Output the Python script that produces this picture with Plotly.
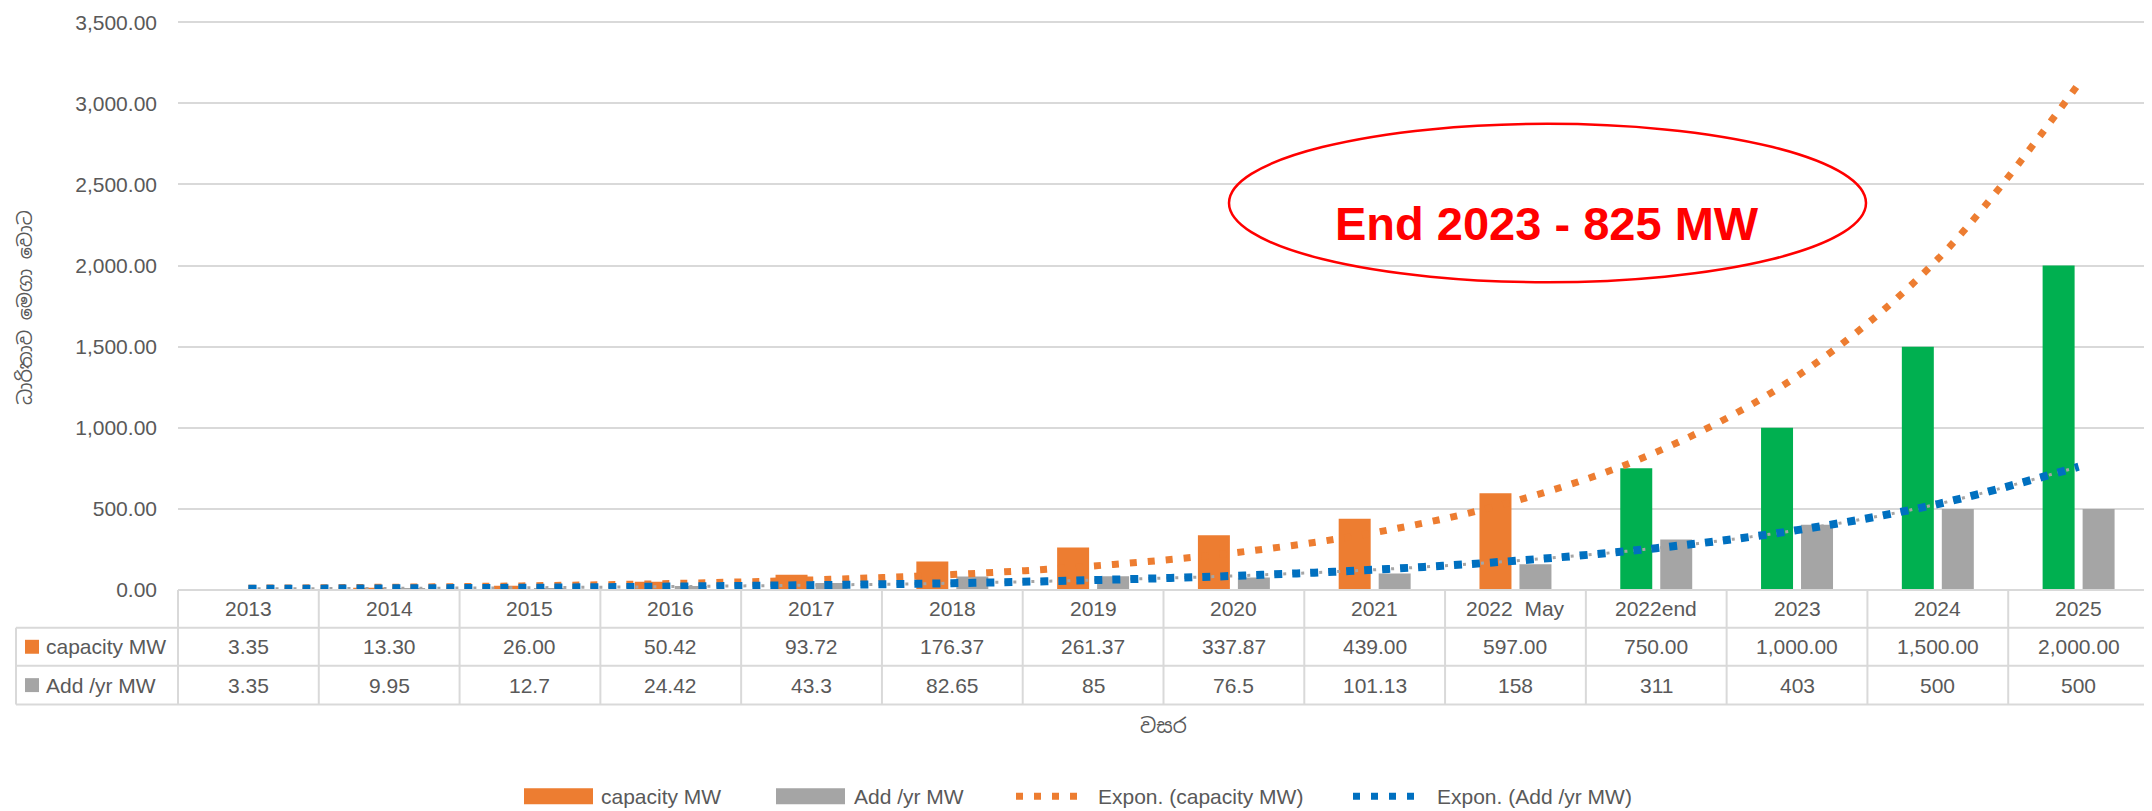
import plotly.graph_objects as go

# ---------------- data ----------------
categories = ["2013", "2014", "2015", "2016", "2017", "2018", "2019", "2020",
              "2021", "2022  May", "2022end", "2023", "2024", "2025"]
capacity_mw = [3.35, 13.30, 26.00, 50.42, 93.72, 176.37, 261.37, 337.87,
               439.00, 597.00, 750.00, 1000.00, 1500.00, 2000.00]
add_yr_mw = [3.35, 9.95, 12.7, 24.42, 43.3, 82.65, 85, 76.5,
             101.13, 158, 311, 403, 500, 500]
# exponential trend lines
capacity_trend = [11, 17, 26, 40, 62, 95, 148, 229, 354, 549, 850, 1318, 2040, 3120]
add_trend = [7, 10, 14, 21, 30, 42, 61, 87, 125, 180, 258, 369, 530, 760]
projected_from = "2022end"
y_ticks = [0, 500, 1000, 1500, 2000, 2500, 3000, 3500]
y_max = 3520

# ---------------- style ----------------
ORANGE = "#ED7D31"
GRAY = "#A5A5A5"
GREEN = "#00B050"
BLUE = "#0070C0"
TXT = "#595959"
GRID = "#D9D9D9"
FONT = "Liberation Sans, Arial, sans-serif"
SIN_FONT = "Noto Sans Sinhala, Iskoola Pota, Noto Sans, DejaVu Sans, sans-serif"
FS = 21

OFF = 8  # page body margin
W, H = 2152 - OFF, 811 - OFF
PLOT_L, PLOT_R, PLOT_B = 178 - OFF, 2149 - OFF, 590 - OFF
TOP_TICK_Y = 20 - OFF  # pixel of the 3500 gridline
PH = (PLOT_B - TOP_TICK_Y) * y_max / y_ticks[-1]
L, R, B = PLOT_L, W - PLOT_R, H - PLOT_B
T = PLOT_B - PH
PW = W - L - R


def px(xp):
    """reference pixel x -> paper"""
    return (xp - OFF - L) / PW


def py(yp):
    """reference pixel y -> paper"""
    return (PLOT_B - (yp - OFF)) / PH


proj_idx = categories.index(projected_from)
bar_colors = [GREEN if i >= proj_idx else ORANGE for i in range(len(categories))]

fig = go.Figure()
fig.add_trace(go.Bar(x=categories, y=capacity_mw, name="capacity MW",
                     marker=dict(color=bar_colors, line=dict(width=0))))
fig.add_trace(go.Bar(x=categories, y=add_yr_mw, name="Add /yr MW",
                     marker=dict(color=GRAY, line=dict(width=0))))
fig.add_trace(go.Scatter(x=categories, y=capacity_trend, mode="lines",
                         name="Expon. (capacity MW)",
                         line=dict(color=ORANGE, width=7, dash="7px,11px", shape="spline")))
fig.add_trace(go.Scatter(x=categories, y=add_trend, mode="lines", showlegend=False,
                         line=dict(color=GRAY, width=3, dash="3px,6px", shape="spline")))
fig.add_trace(go.Scatter(x=categories, y=add_trend, mode="lines",
                         name="Expon. (Add /yr MW)",
                         line=dict(color=BLUE, width=8, dash="8px,10px", shape="spline")))

shapes = []
annotations = []


def txt(x, y, text, xanchor="center", size=FS, family=FONT, color=TXT, **kw):
    annotations.append(dict(x=x, xref="paper", y=y, yref="paper", text=text,
                            xanchor=xanchor, yanchor="middle", showarrow=False,
                            font=dict(family=family, size=size, color=color), **kw))


n = len(categories)
# table geometry (reference pixels)
row_y = [590, 628, 666, 705]
left_x = 16
line = dict(color=GRID, width=2)
shapes.append(dict(type="line", xref="paper", yref="paper", x0=0, x1=1,
                   y0=py(row_y[0]), y1=py(row_y[0]), line=line))
for yy in row_y[1:]:
    shapes.append(dict(type="line", xref="paper", yref="paper", x0=px(left_x), x1=1,
                       y0=py(yy), y1=py(yy), line=line))
for k in range(n + 1):
    shapes.append(dict(type="line", xref="paper", yref="paper", x0=k / n, x1=k / n,
                       y0=py(row_y[0]), y1=py(row_y[3]), line=line))
shapes.append(dict(type="line", xref="paper", yref="paper", x0=px(left_x), x1=px(left_x),
                   y0=py(row_y[1]), y1=py(row_y[3]), line=line))


def mid(a, b):
    return py((a + b) / 2)


for i, c in enumerate(categories):
    cx = (i + 0.5) / n
    txt(cx, mid(row_y[0], row_y[1]), c.replace("  ", "\u00a0\u00a0"))
    txt(cx, mid(row_y[1], row_y[2]), f"{capacity_mw[i]:,.2f}")
    txt(cx, mid(row_y[2], row_y[3]), f"{add_yr_mw[i]:g}")

for (label, col, r0, r1) in [("capacity MW", ORANGE, row_y[1], row_y[2]),
                             ("Add /yr MW", GRAY, row_y[2], row_y[3])]:
    cy = (r0 + r1) / 2
    shapes.append(dict(type="rect", xref="paper", yref="paper", x0=px(25), x1=px(39),
                       y0=py(cy + 7), y1=py(cy - 7), fillcolor=col, line=dict(width=0)))
    txt(px(44), py(cy), label, xanchor="left")

# bottom legend (manual)
ly = 797
shapes.append(dict(type="rect", xref="paper", yref="paper", x0=px(524), x1=px(593),
                   y0=py(ly + 8), y1=py(ly - 8), fillcolor=ORANGE, line=dict(width=0)))
shapes.append(dict(type="rect", xref="paper", yref="paper", x0=px(776), x1=px(845),
                   y0=py(ly + 8), y1=py(ly - 8), fillcolor=GRAY, line=dict(width=0)))
shapes.append(dict(type="line", xref="paper", yref="paper", x0=px(1016), x1=px(1080),
                   y0=py(ly), y1=py(ly), line=dict(color=ORANGE, width=7, dash="7px,11px")))
shapes.append(dict(type="line", xref="paper", yref="paper", x0=px(1353), x1=px(1417),
                   y0=py(ly), y1=py(ly), line=dict(color=BLUE, width=7, dash="7px,11px")))
for xx, t in [(599, "capacity MW"), (852, "Add /yr MW"),
              (1096, "Expon. (capacity MW)"), (1435, "Expon. (Add /yr MW)")]:
    txt(px(xx), py(ly), t, xanchor="left")

# axis titles
txt(px(25), py(307), "ධාරිතාව මෙගා වොට", size=19, family=SIN_FONT, textangle=-90)
txt(px(1163), py(727), "වසර", size=20, family=SIN_FONT)

# callout ellipse and text
shapes.append(dict(type="circle", xref="paper", yref="paper",
                   x0=px(1229), x1=px(1866), y0=py(281), y1=py(122),
                   line=dict(color="#FF0000", width=2.5)))
txt(px(1547), py(222), "<b>End 2023 - 825 MW</b>", size=47, color="#FF0000")

fig.update_layout(
    width=W, height=H,
    margin=dict(l=L, r=R, t=T, b=B, pad=0),
    paper_bgcolor="white", plot_bgcolor="white",
    barmode="group", bargap=0.432, bargroupgap=0.2,
    showlegend=False,
    shapes=shapes, annotations=annotations,
    font=dict(family=FONT, size=FS, color=TXT),
)
fig.update_xaxes(type="category", range=[-0.5, n - 0.5], showticklabels=False,
                 showgrid=False, zeroline=False, showline=False, ticks="",
                 fixedrange=True)
fig.update_yaxes(range=[0, y_max], tickvals=y_ticks, tickformat=",.2f",
                 showgrid=True, gridcolor=GRID, gridwidth=1.5, zeroline=False,
                 showline=False, ticks="", ticklabelstandoff=20,
                 ticklabeloverflow="allow",
                 tickfont=dict(family=FONT, size=FS, color=TXT), fixedrange=True)

fig.write_html("out.html")
